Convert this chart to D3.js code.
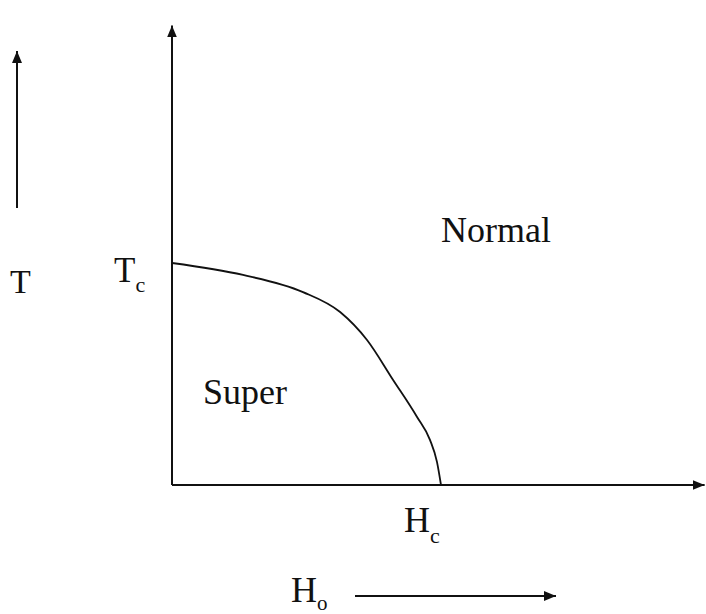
<!DOCTYPE html>
<html>
<head>
<meta charset="utf-8">
<script src="https://cdn.jsdelivr.net/npm/d3@7"></script>
<style>
  body { margin: 0; background: #fff; }
  text { font-family: "Liberation Serif", "Times New Roman", serif; fill: #111; }
</style>
</head>
<body>
<div id="chart"></div>
<script>
// phase boundary, H/Hc vs T/Tc
const boundaryH = [0, 0.264, 0.487, 0.625, 0.725, 0.822, 0.911, 0.959, 0.985, 1];
const boundaryT = [1, 0.946, 0.869, 0.779, 0.653, 0.473, 0.306, 0.203, 0.104, 0];
const axisMaxH = 1.98;
const axisMaxT = 2.07;
const regionLabels = ["Normal", "Super"];

const width = 706, height = 614;

const svg = d3.select("#chart").append("svg")
    .attr("width", width)
    .attr("height", height);

const x = d3.scaleLinear().domain([0, 1]).range([172, 441]);
const y = d3.scaleLinear().domain([0, 1]).range([485, 263]);

const defs = svg.append("defs");
defs.append("marker")
    .attr("id", "arrow")
    .attr("viewBox", "0 0 12 10")
    .attr("refX", 12)
    .attr("refY", 5)
    .attr("markerWidth", 12)
    .attr("markerHeight", 10)
    .attr("markerUnits", "userSpaceOnUse")
    .attr("orient", "auto")
    .append("path")
    .attr("d", "M0,0 L12,5 L0,10 Z")
    .attr("fill", "#111");

// axes
svg.append("line")
    .attr("x1", x(0)).attr("y1", y(0))
    .attr("x2", x(axisMaxH)).attr("y2", y(0))
    .attr("stroke", "#111").attr("stroke-width", 2)
    .attr("marker-end", "url(#arrow)");

svg.append("line")
    .attr("x1", x(0)).attr("y1", y(0))
    .attr("x2", x(0)).attr("y2", y(axisMaxT))
    .attr("stroke", "#111").attr("stroke-width", 2)
    .attr("marker-end", "url(#arrow)");

// boundary curve
const pts = boundaryH.map((h, i) => [h, boundaryT[i]]);
const line = d3.line()
    .x(d => x(d[0]))
    .y(d => y(d[1]))
    .curve(d3.curveMonotoneX);

svg.append("path")
    .datum(pts)
    .attr("d", line)
    .attr("fill", "none")
    .attr("stroke", "#111")
    .attr("stroke-width", 1.8);

// region labels
svg.append("text")
    .attr("x", 441).attr("y", 242)
    .attr("font-size", "36px")
    .text(regionLabels[0]);

svg.append("text")
    .attr("x", 203).attr("y", 404)
    .attr("font-size", "36px")
    .text(regionLabels[1]);

// Tc label
const tc = svg.append("text").attr("x", 114).attr("y", 282).attr("font-size", "35px");
tc.append("tspan").text("T");
tc.append("tspan").attr("font-size", "22px").attr("dy", 10).text("c");

// Hc label
const hc = svg.append("text").attr("x", 404).attr("y", 532).attr("font-size", "36px");
hc.append("tspan").text("H");
hc.append("tspan").attr("font-size", "22px").attr("dy", 11).text("c");

// left T arrow
svg.append("line")
    .attr("x1", 17).attr("y1", 208)
    .attr("x2", 17).attr("y2", 51)
    .attr("stroke", "#111").attr("stroke-width", 2)
    .attr("marker-end", "url(#arrow)");

svg.append("text")
    .attr("x", 10).attr("y", 293)
    .attr("font-size", "34px")
    .text("T");

// bottom Ho arrow
const ho = svg.append("text").attr("x", 291).attr("y", 602).attr("font-size", "36px");
ho.append("tspan").text("H");
ho.append("tspan").attr("font-size", "21px").attr("dy", 8).text("o");

svg.append("line")
    .attr("x1", 355).attr("y1", 596)
    .attr("x2", 556).attr("y2", 596)
    .attr("stroke", "#111").attr("stroke-width", 2)
    .attr("marker-end", "url(#arrow)");
</script>
</body>
</html>
